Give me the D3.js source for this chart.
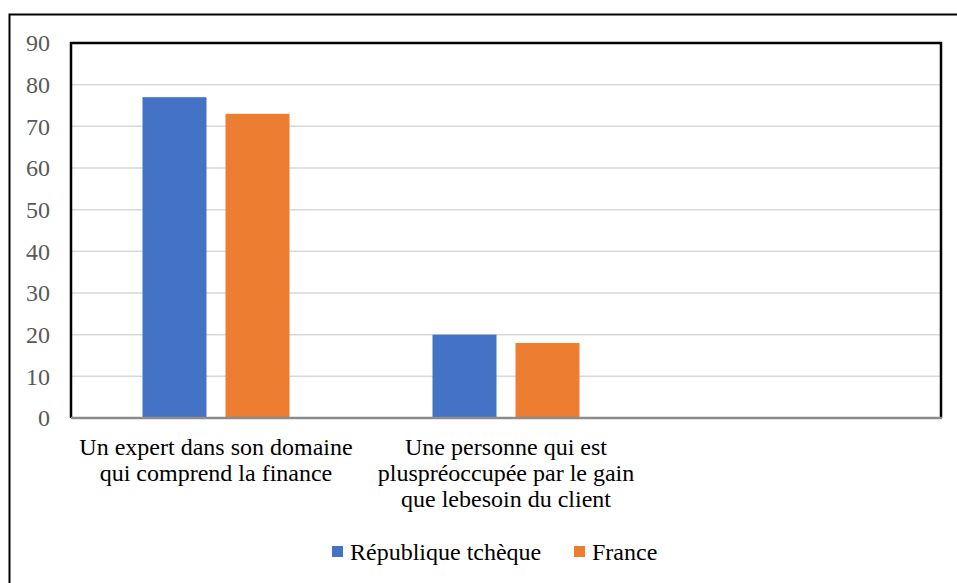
<!DOCTYPE html>
<html>
<head>
<meta charset="utf-8">
<script src="https://cdn.jsdelivr.net/npm/d3@7"></script>
<style>
  body { margin: 0; background: #fff; }
  svg { display: block; }
</style>
</head>
<body>
<svg id="chart" width="957" height="583" font-family="'Liberation Serif', 'Times New Roman', serif"></svg>
<script>
var categories = [
  ["Un expert dans son domaine", "qui comprend la finance"],
  ["Une personne qui est", "pluspréoccupée par le gain", "que lebesoin du client"],
  [""]
];
var seriesNames = ["République tchèque", "France"];
var czValues = [77, 20, null];
var frValues = [73, 18, null];
var yTicks = [0, 10, 20, 30, 40, 50, 60, 70, 80, 90];
var colors = ["#4472C4", "#ED7D31"];

var serif = "'Liberation Serif', 'Times New Roman', serif";
var svg = d3.select("#chart");
var plot = { left: 71, top: 43, right: 941, bottom: 418 };

// outer frame (right & bottom fall outside the window)
svg.append("rect")
  .attr("x", 9.5).attr("y", 14.5)
  .attr("width", 960).attr("height", 600)
  .attr("fill", "none").attr("stroke", "#000").attr("stroke-width", 2);

var x = d3.scaleBand()
  .domain(d3.range(categories.length))
  .range([plot.left, plot.right]);

var y = d3.scaleLinear().domain([0, 90]).range([plot.bottom, plot.top]);

// gridlines
svg.append("g").selectAll("line")
  .data(yTicks.filter(function (t) { return t > 0 && t < 90; }))
  .join("line")
  .attr("x1", plot.left).attr("x2", plot.right)
  .attr("y1", function (d) { return y(d); })
  .attr("y2", function (d) { return y(d); })
  .attr("stroke", "#d9d9d9").attr("stroke-width", 1.5);

// bars
var barW = 64, gap = 19;
var series = [czValues, frValues];
series.forEach(function (vals, si) {
  svg.append("g").selectAll("rect")
    .data(vals.map(function (v, i) { return { v: v, i: i }; }).filter(function (d) { return d.v != null; }))
    .join("rect")
    .attr("x", function (d) {
      var c = x(d.i) + x.bandwidth() / 2;
      return si === 0 ? c - gap / 2 - barW : c + gap / 2;
    })
    .attr("y", function (d) { return y(d.v); })
    .attr("width", barW)
    .attr("height", function (d) { return y(0) - y(d.v); })
    .attr("fill", colors[si]);
});

// plot border
svg.append("path")
  .attr("d", "M" + plot.left + "," + plot.bottom + "V" + plot.top + "H" + plot.right + "V" + plot.bottom)
  .attr("fill", "none").attr("stroke", "#000").attr("stroke-width", 2.5);
// x axis line
svg.append("line")
  .attr("x1", plot.left).attr("x2", plot.right + 1)
  .attr("y1", plot.bottom).attr("y2", plot.bottom)
  .attr("stroke", "#8c8c8c").attr("stroke-width", 2.5);

// y axis labels
var yAxis = d3.axisLeft(y).tickValues(yTicks).tickSize(0).tickPadding(21);
var yg = svg.append("g").attr("transform", "translate(" + plot.left + ",0)").call(yAxis);
yg.attr("font-family", serif).attr("font-size", 24);
yg.select(".domain").remove();
yg.selectAll("text").attr("fill", "#595959");

// category labels
categories.forEach(function (lines, i) {
  var t = svg.append("text")
    .attr("text-anchor", "middle")
    .attr("font-family", serif)
    .attr("font-size", 24)
    .attr("fill", "#000");
  lines.forEach(function (l, k) {
    t.append("tspan")
      .attr("x", x(i) + x.bandwidth() / 2)
      .attr("y", 455 + k * 26)
      .text(l);
  });
});

// legend
var legend = [{ name: seriesNames[0], x: 332 }, { name: seriesNames[1], x: 574 }];
legend.forEach(function (d, i) {
  svg.append("rect")
    .attr("x", d.x).attr("y", 546)
    .attr("width", 11).attr("height", 11)
    .attr("fill", colors[i]);
  svg.append("text")
    .attr("x", d.x + 18).attr("y", 560)
    .attr("font-family", serif)
    .attr("font-size", 24)
    .attr("fill", "#000")
    .text(d.name);
});
</script>
</body>
</html>
